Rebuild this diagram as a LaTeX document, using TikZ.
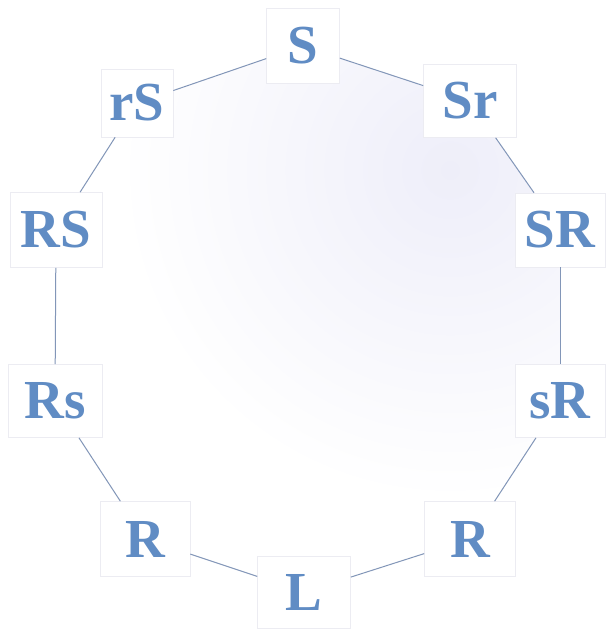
\documentclass[tikz,border=0pt]{standalone}
\usepackage{fontspec}
\newfontfamily\lblfont{Liberation Serif}[UprightFont={* Bold}]
\begin{document}
\begin{tikzpicture}[x=1pt,y=-1pt,
  lbl/.style={draw=boxline, line width=0.6pt, fill=white, inner sep=0pt,
    minimum width=91pt, minimum height=73pt,
    font=\lblfont\fontsize{55}{55}\selectfont, text=lblblue},
  edge/.style={draw=edgecol, line width=1pt}]
\definecolor{lblblue}{RGB}{96,140,196}
\definecolor{boxline}{RGB}{236,236,242}
\definecolor{edgecol}{RGB}{130,150,184}
\definecolor{lav}{RGB}{238,238,249}
\useasboundingbox (0,0) rectangle (605,629);
\fill[white] (0,0) rectangle (605,629);
% background shading inside the ring
\begin{scope}
  \clip (303,46) -- (470,101) -- (560,230) -- (560,402) -- (470,539)
        -- (304,592) -- (145,539) -- (55,401) -- (56,230) -- (137,103) -- cycle;
  \shade[inner color=lav, outer color=white] (450,170) circle (330);
\end{scope}
% nodes
\node[lbl, minimum width=73pt, minimum height=75pt] (S) at (303,46) {S};
\node[lbl, minimum width=93pt] (Sr) at (470,101) {Sr};
\node[lbl, minimum width=90pt, minimum height=74pt] (SR) at (560,230) {SR};
\node[lbl, minimum width=90pt] (sR) at (560,401) {sR};
\node[lbl, minimum height=75pt] (Rr) at (470,539) {R};
\node[lbl, minimum width=93pt, minimum height=72pt] (L) at (304,592) {L};
\node[lbl, minimum width=90pt, minimum height=75pt] (Rl) at (145,539) {R};
\node[lbl, minimum width=94pt] (Rs) at (55,401) {Rs};
\node[lbl, minimum width=92pt, minimum height=75pt] (RS) at (56,230) {RS};
\node[lbl, minimum width=72pt, minimum height=68pt] (rS) at (137,103) {rS};
% connectors
\draw[edge] (S) -- (Sr);
\draw[edge] (Sr) -- (SR);
\draw[edge] (SR) -- (sR);
\draw[edge] (sR) -- (Rr);
\draw[edge] (Rr) -- (L);
\draw[edge] (L) -- (Rl);
\draw[edge] (Rl) -- (Rs);
\draw[edge] (Rs) -- (RS);
\draw[edge] (RS) -- (rS);
\draw[edge] (rS) -- (S);
\end{tikzpicture}
\end{document}
